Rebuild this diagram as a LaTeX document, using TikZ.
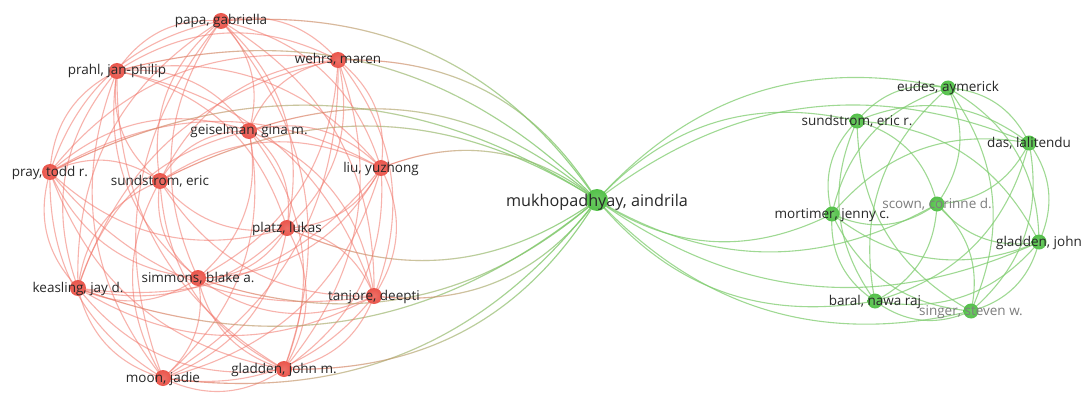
\documentclass[tikz,border=0pt]{standalone}
\usepackage{fontspec}
\setmainfont{Open Sans}
\usetikzlibrary{calc,fadings}
\pgfdeclarelayer{bg}
\pgfsetlayers{bg,main}
\definecolor{rnode}{RGB}{234,86,76}
\definecolor{gnode}{RGB}{84,193,74}
\definecolor{redge}{RGB}{242,118,106}
\definecolor{gedge}{RGB}{128,205,112}
\definecolor{labc}{RGB}{40,40,40}
\definecolor{labg}{RGB}{125,125,125}
\tikzset{
  rn/.style={circle, inner color=rnode!85!white, outer color=rnode, minimum size=16pt, inner sep=0pt},
  gn/.style={circle, inner color=gnode!85!white, outer color=gnode, minimum size=15pt, inner sep=0pt},
  bign/.style={circle, inner color=gnode!85!white, outer color=gnode, minimum size=22pt, inner sep=0pt},
  lab/.style={font=\fontsize{13.5}{13.5}\selectfont, text=labc, inner sep=0pt, anchor=base},
  labgray/.style={lab, text=labg},
  biglab/.style={font=\fontsize{16.2}{16.2}\selectfont, text=labc, inner sep=0pt, anchor=base},
  redg/.style={draw=redge, line width=1.1pt, draw opacity=0.55},
  gredg/.style={draw=gedge, line width=1.1pt, draw opacity=0.75},
  mredg/.style={draw=redge, line width=1.1pt, draw opacity=0.8, path fading=east},
  mgredg/.style={draw=gedge, line width=1.1pt, draw opacity=0.9, path fading=west},
}
\newcommand\lnk[4]{%
  \draw[#1] let \p1=(#2.center), \p2=(#3.center), \p3=(#4),
    \n1={-30*sign(((\x2-\x1)/100)*((\y3-\y1)/100)-((\y2-\y1)/100)*((\x3-\x1)/100))}
    in (#2.center) to[bend left=\n1] (#3.center);}
\newcommand\mlnk[3]{\lnk{mredg}{#1}{#2}{#3}\lnk{mgredg}{#1}{#2}{#3}}
\begin{document}
\begin{tikzpicture}[x=1pt, y={(0pt,-1pt)}]
\useasboundingbox (0,0) rectangle (1086,393);
% red cluster nodes
\node[rn] (pa) at (221,21) {};
\node[rn] (pr) at (117,71) {};
\node[rn] (we) at (338,60) {};
\node[rn] (ge) at (249,131) {};
\node[rn] (pt) at (50,172) {};
\node[rn] (su) at (160,181) {};
\node[rn] (li) at (381,168) {};
\node[rn] (pl) at (287,228) {};
\node[rn] (si) at (198,278) {};
\node[rn] (ke) at (78,288) {};
\node[rn] (ta) at (374,296) {};
\node[rn] (mo) at (163,378) {};
\node[rn] (gm) at (284,369) {};
% central
\node[bign] (mu) at (597,200) {};
% green cluster nodes
\node[gn] (eu) at (948,88) {};
\node[gn] (sr) at (857,121) {};
\node[gn] (da) at (1029,143) {};
\node[gn] (sc) at (937,204) {};
\node[gn] (mt) at (832,214) {};
\node[gn] (gj) at (1039,242) {};
\node[gn] (ba) at (875,301) {};
\node[gn] (sg) at (971,311) {};
\coordinate (rc) at (223,203);
\coordinate (gc) at (936,203);
% edges
\begin{pgfonlayer}{bg}
\fill[white] (0,0) rectangle (1086,393);
\foreach \a [count=\i] in {pa,pr,we,ge,pt,su,li,pl,si,ke,ta,mo,gm}{
  \foreach \b [count=\j] in {pa,pr,we,ge,pt,su,li,pl,si,ke,ta,mo,gm}{
    \ifnum\j>\i \lnk{redg}{\a}{\b}{rc}\fi
  }
  \mlnk{\a}{mu}{rc}
}
\foreach \a [count=\i] in {eu,sr,da,sc,mt,gj,ba,sg}{
  \foreach \b [count=\j] in {eu,sr,da,sc,mt,gj,ba,sg}{
    \ifnum\j>\i \lnk{gredg}{\a}{\b}{gc}\fi
  }
  \lnk{gredg}{mu}{\a}{gc}
}
\end{pgfonlayer}
% labels
\node[lab] (pa-l) at ($(pa)+(0,4)$) {papa, gabriella};
\node[lab] (pr-l) at ($(pr)+(0,4)$) {prahl, jan-philip};
\node[lab] (we-l) at ($(we)+(0,4)$) {wehrs, maren};
\node[lab] (ge-l) at ($(ge)+(0,4)$) {geiselman, gina m.};
\node[lab] (pt-l) at ($(pt)+(0,4)$) {pray, todd r.};
\node[lab] (su-l) at ($(su)+(0,4)$) {sundstrom, eric};
\node[lab] (li-l) at ($(li)+(0,4)$) {liu, yuzhong};
\node[lab] (pl-l) at ($(pl)+(0,4)$) {platz, lukas};
\node[lab] (si-l) at ($(si)+(0,4)$) {simmons, blake a.};
\node[lab] (ke-l) at ($(ke)+(0,4)$) {keasling, jay d.};
\node[lab] (ta-l) at ($(ta)+(0,4)$) {tanjore, deepti};
\node[lab] (mo-l) at ($(mo)+(0,4)$) {moon, jadie};
\node[lab] (gm-l) at ($(gm)+(0,4)$) {gladden, john m.};
\node[biglab] (mu-l) at ($(mu)+(0,6)$) {mukhopadhyay, aindrila};
\node[lab] (eu-l) at ($(eu)+(0,4)$) {eudes, aymerick};
\node[lab] (sr-l) at ($(sr)+(0,4)$) {sundstrom, eric r.};
\node[lab] (da-l) at ($(da)+(0,4)$) {das, lalitendu};
\node[labgray] (sc-l) at ($(sc)+(0,4)$) {scown, corinne d.};
\node[lab] (mt-l) at ($(mt)+(0,4)$) {mortimer, jenny c.};
\node[lab] (gj-l) at ($(gj)+(0,4)$) {gladden, john};
\node[lab] (ba-l) at ($(ba)+(0,4)$) {baral, nawa raj};
\node[labgray] (sg-l) at ($(sg)+(0,4)$) {singer, steven w.};
\end{tikzpicture}
\end{document}
